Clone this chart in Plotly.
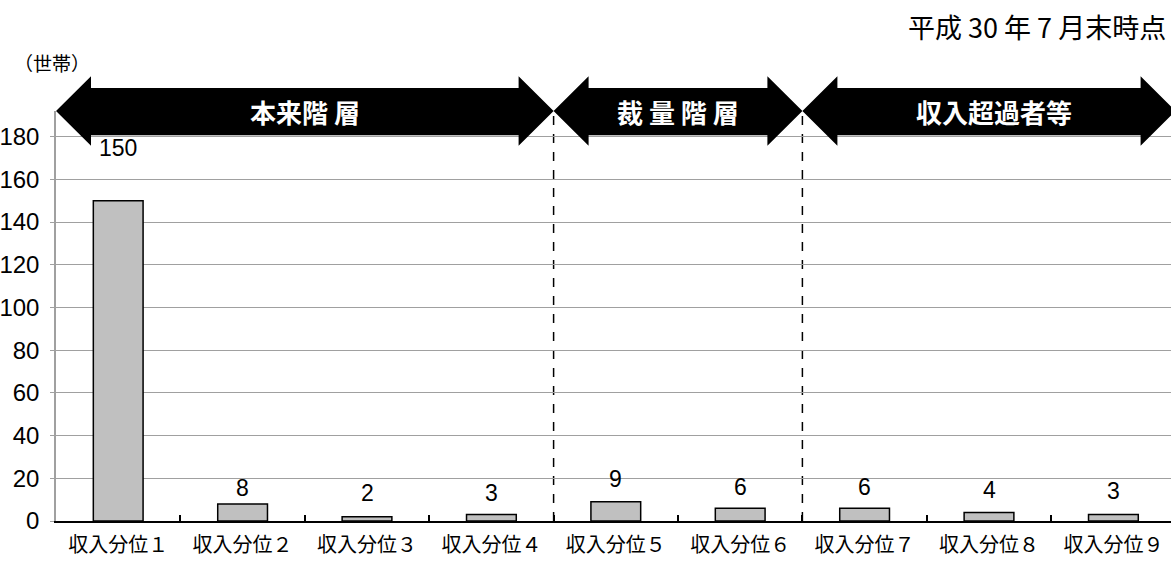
import plotly.graph_objects as go

categories = ["収入分位１", "収入分位２", "収入分位３", "収入分位４", "収入分位５",
              "収入分位６", "収入分位７", "収入分位８", "収入分位９"]
households = [150, 8, 2, 3, 9, 6, 6, 4, 3]
y_ticks = [0, 20, 40, 60, 80, 100, 120, 140, 160, 180]
groups = [("本来階 層", 0, 4), ("裁 量 階 層", 4, 6), ("収入超過者等", 6, 9)]
# style: pixel offset of each data label centre above its bar top
label_offsets = [53, 16, 24, 22, 23, 21, 21, 22, 24]

NUM_FONT = "Liberation Sans Narrow, Liberation Sans, Noto Sans CJK JP"
JP_FONT = "Noto Sans CJK JP"

L, R, T, B = 56, 0, 111, 41
W, H = 1171, 562
plot_w = W - L - R
n = len(categories)
cat_px = 124.4                      # pixel width of one category (plot runs past window edge)
x_max = -0.5 + plot_w / cat_px

fig = go.Figure()
fig.add_trace(go.Bar(
    x=categories, y=households, width=0.4,
    marker=dict(color="#c0c0c0", line=dict(color="black", width=1.5)),
    hoverinfo="x+y", showlegend=False,
))

annotations = []
for c, v, off in zip(categories, households, label_offsets):
    annotations.append(dict(x=c, y=v, xref="x", yref="y", text=str(v), showarrow=False,
                            yanchor="middle", yshift=off,
                            font=dict(family=NUM_FONT, size=23, color="black")))

shapes = []
head = 35 / cat_px
y_tip, y_head_top, y_head_bot = 1.0, 1.085, 0.915
y_sh_top, y_sh_bot = 1.056, 0.941
for name, a, b in groups:
    x0, x1 = a - 0.5, b - 0.5
    path = (f"M {x0} {y_tip} L {x0+head} {y_head_top} L {x0+head} {y_sh_top} "
            f"L {x1-head} {y_sh_top} L {x1-head} {y_head_top} L {x1} {y_tip} "
            f"L {x1-head} {y_head_bot} L {x1-head} {y_sh_bot} L {x0+head} {y_sh_bot} "
            f"L {x0+head} {y_head_bot} Z")
    shapes.append(dict(type="path", path=path, xref="x", yref="paper",
                       fillcolor="black", line=dict(width=0), layer="above"))
    annotations.append(dict(x=(x0 + x1) / 2, y=(y_sh_top + y_sh_bot) / 2, xref="x", yref="paper",
                            text=name, showarrow=False, xanchor="center", yanchor="middle",
                            xshift=5 if b == n else 0,
                            font=dict(family=JP_FONT, size=26, color="white", weight="bold")))

for _, a, b in groups[1:]:
    shapes.append(dict(type="line", xref="x", yref="paper", x0=a - 0.5, x1=a - 0.5, y0=0, y1=1,
                       line=dict(color="black", width=1.5, dash="dash"), layer="below"))

annotations.append(dict(x=(1168 - L) / plot_w, y=(H - B - 26) / (H - T - B), xref="paper", yref="paper",
                        text="平成 30 年 7 月末時点", showarrow=False, xanchor="right", yanchor="middle",
                        font=dict(family=JP_FONT, size=27, color="black")))
annotations.append(dict(x=(12 - L) / plot_w, y=(H - B - 63) / (H - T - B), xref="paper", yref="paper",
                        text="（世帯）", showarrow=False, xanchor="left", yanchor="middle",
                        font=dict(family=JP_FONT, size=19, color="black")))

fig.update_layout(
    width=W, height=H,
    margin=dict(l=L, r=R, t=T, b=B, pad=0, autoexpand=False),
    paper_bgcolor="white", plot_bgcolor="white",
    shapes=shapes, annotations=annotations,
    xaxis=dict(type="category", categoryorder="array", categoryarray=categories,
               range=[-0.5, x_max], tickson="boundaries", ticks="inside", ticklen=6,
               tickcolor="black", tickwidth=1.5, automargin=False,
               showline=True, linecolor="black", linewidth=2, showgrid=False, zeroline=False,
               ticklabelstandoff=5,
               tickfont=dict(family=JP_FONT, size=20, color="black")),
    yaxis=dict(range=[0, 192], tickmode="array", tickvals=y_ticks, automargin=False,
               showgrid=True, gridcolor="#a0a0a0", gridwidth=1,
               showline=True, linecolor="#a0a0a0", linewidth=1.5, zeroline=False,
               ticks="outside", ticklen=4, tickcolor="#a0a0a0", ticklabelstandoff=6,
               tickfont=dict(family=NUM_FONT, size=24, color="black")),
)

fig.write_html("out.html")
